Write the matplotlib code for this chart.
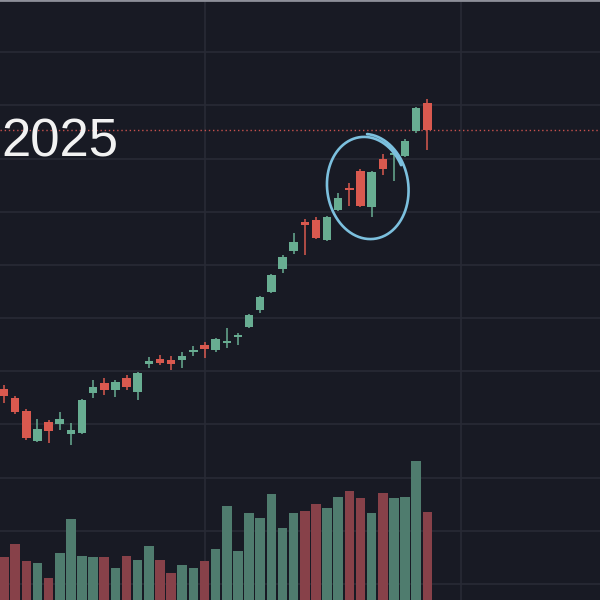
"""Dark candlestick crop with volume bars, a big '2025' label and a hand-drawn circle."""
import matplotlib
matplotlib.use("Agg")
import matplotlib.pyplot as plt
import matplotlib.transforms as mtransforms
import numpy as np

# OHLC per candle (price units), left to right
opens = [136.7, 135.0, 132.5, 126.9, 130.5, 130.1, 128.2, 128.4, 135.9, 137.8,
         136.5, 138.7, 136.1, 141.4, 142.3, 142.1, 142.1, 143.6, 144.9, 144.0,
         145.3, 146.4, 148.3, 151.5, 154.9, 159.2, 162.6, 168.0, 168.4, 164.7,
         170.3, 174.4, 177.6, 170.9, 179.9, 180.6, 180.5, 185.2, 190.4]
highs = [137.4, 135.3, 132.9, 131.0, 130.8, 132.3, 130.3, 134.8, 138.3, 138.7,
         138.3, 139.3, 139.8, 142.7, 143.0, 142.9, 143.6, 144.7, 145.5, 146.2,
         148.1, 147.2, 150.8, 154.1, 158.3, 161.8, 166.0, 168.6, 169.0, 169.2,
         173.5, 175.4, 178.0, 177.6, 180.8, 181.4, 183.6, 189.7, 191.2]
lows = [134.0, 132.0, 127.1, 126.7, 126.5, 128.9, 126.1, 128.2, 135.0, 135.5,
        135.2, 136.5, 134.6, 140.6, 141.2, 140.2, 140.6, 142.9, 142.5, 143.6,
        144.4, 144.9, 148.1, 150.9, 154.7, 158.5, 162.0, 161.8, 164.8, 164.5,
        170.1, 171.1, 170.9, 169.0, 176.9, 175.8, 180.3, 184.8, 181.6]
closes = [135.3, 132.3, 127.4, 129.1, 128.8, 131.0, 128.9, 134.6, 137.0, 136.5,
          138.0, 137.0, 139.7, 141.9, 141.5, 141.4, 142.9, 144.0, 144.2, 146.1,
          145.7, 146.8, 150.6, 153.9, 158.1, 161.5, 164.3, 167.5, 165.0, 169.0,
          172.6, 174.1, 171.1, 177.4, 178.0, 181.0, 183.3, 189.5, 185.3]
volumes = [4.3, 5.6, 3.9, 3.7, 2.2, 4.7, 8.1, 4.4, 4.3, 4.3,
           3.2, 4.4, 4.0, 5.4, 4.0, 2.7, 3.5, 3.2, 3.9, 5.1,
           9.4, 4.9, 8.7, 8.2, 10.6, 7.2, 8.7, 8.9, 9.6, 9.2,
           10.3, 10.9, 10.2, 8.7, 10.7, 10.2, 10.3, 13.9, 8.8]
label = "2025"

BG = "#181a24"
GRID = "#282a35"
UP, DOWN = "#68ad92", "#d9594f"
UP_VOL, DOWN_VOL = "#4f7c6e", "#874149"

o = np.array(opens)
c = np.array(closes)
x = np.arange(len(o))
up = c >= o

fig = plt.figure(figsize=(6, 6), dpi=100, facecolor=BG)
ax = fig.add_axes([0, 0, 1, 1], facecolor=BG)
ax.set_xlim(-0.36, 53.5)
ax.set_ylim(97.0, 209.8)
ax.set_yticks(np.arange(100, 210, 10))
ax.set_xticks([18, 41])
ax.grid(True, color=GRID, lw=1.2)
ax.tick_params(length=0, labelleft=False, labelbottom=False)
for side in ["left", "right", "bottom"]:
    ax.spines[side].set_visible(False)
ax.spines["top"].set_color("#8d8f99")
ax.spines["top"].set_linewidth(2)

# volume on its own scale at the bottom
axv = ax.twinx()
axv.set_ylim(0, 60)
axv.axis("off")
axv.bar(x, volumes, width=0.86, color=np.where(up, UP_VOL, DOWN_VOL), zorder=1)

# candles
colors = np.where(up, UP, DOWN)
ax.vlines(x, lows, highs, colors=colors, lw=1.1, zorder=3)
body = np.maximum(np.abs(c - o), 0.35)
ax.bar(x, body, bottom=np.minimum(o, c), width=0.76, color=colors, zorder=4)

# last price line
ax.axhline(closes[-1], color="#c8524e", ls=(0, (1, 2)), lw=1.0, zorder=2)

ax.text(0.002, 0.762, label, transform=ax.transAxes, ha="left", va="center",
        color="#f2f2f2", fontsize=38, family=["Liberation Sans", "DejaVu Sans"], zorder=5)

# hand-drawn loop round the last run of candles (sized in inches);
# the stroke overlaps itself at the upper right
th = np.linspace(np.radians(20), np.radians(20 + 360 + 60), 300)
grow = 1 + 0.06 * (th - th[0]) / (2 * np.pi)
lx = 0.39 * grow * np.cos(th)
ly = 0.50 * grow * np.sin(th)
rot = np.radians(8)
rx = lx * np.cos(rot) - ly * np.sin(rot)
ry = lx * np.sin(rot) + ly * np.cos(rot)
trans = fig.dpi_scale_trans + mtransforms.ScaledTranslation(32.6, 174.6, ax.transData)
ax.plot(rx, ry, transform=trans, color="#7cc0de", lw=1.9, solid_capstyle="round", zorder=6)

fig.savefig("out.png", dpi=100, facecolor=BG)
